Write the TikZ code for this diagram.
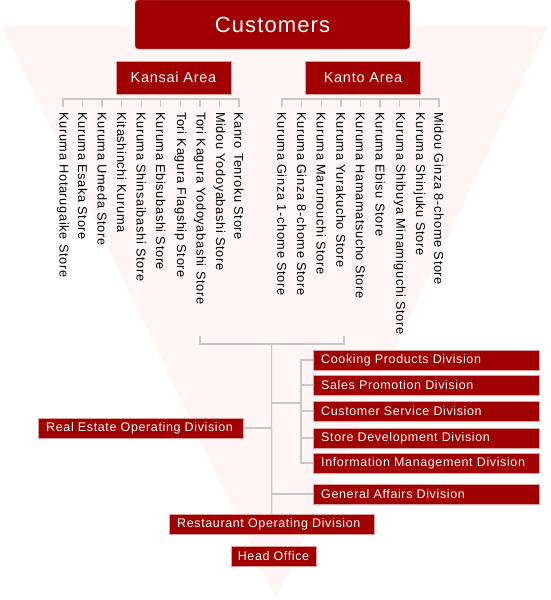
\documentclass[tikz,border=0pt]{standalone}
\usepackage{fontspec}
\setmainfont{Liberation Sans}
\newfontfamily\spacedfont[LetterSpace=5]{Liberation Sans}
\definecolor{box_red}{RGB}{160,0,0}
\definecolor{box_edge}{RGB}{225,160,160}
\definecolor{line_gray}{RGB}{200,200,200}
\definecolor{back_pink}{RGB}{255,245,245}

\begin{document}
\begin{tikzpicture}[x=1pt,y=-1pt]
    \tikzstyle{box}=[fill=box_red, draw=box_edge, line width=0.4pt, text=white, minimum height=20pt, inner ysep=0pt, font=\spacedfont\fontsize{12.5}{14}\selectfont]
    \tikzstyle{div}=[style=box, anchor=west, text width=210pt, inner xsep=8pt, align=left]
    \tikzstyle{wide}=[style=box, anchor=west, text width=189pt, inner xsep=8pt, align=left]
    \tikzstyle{area}=[style=box, minimum width=115pt, minimum height=33pt, font=\spacedfont\fontsize{14.5}{16}\selectfont]
    \tikzstyle{store}=[anchor=west, rotate=-90, inner xsep=5pt, inner ysep=0pt, text=black, font=\spacedfont\fontsize{12.8}{14}\selectfont]
    \tikzstyle{link}=[draw=line_gray, line width=1.3pt]

    \useasboundingbox (0,0) rectangle (550,600);
    \fill[back_pink] (2,26) -- (548,26) -- (276,598) -- cycle;

    \node[box, rounded corners=3pt, minimum width=275pt, minimum height=49pt, font=\spacedfont\fontsize{22}{24}\selectfont] (cu) at (272.5,24.5) {Customers};
    \node[area] (ka) at (173.5,77.5) {Kansai Area};
    \node[area] (kt) at (363,77.5)   {Kanto Area};

    % Kansai stores
    \node[store] (ks1)  at (63,107)    {Kuruma Hotarugaike Store};
    \node[store] (ks2)  at (82.6,107)  {Kuruma Esaka Store};
    \node[store] (ks3)  at (102.1,107) {Kuruma Umeda Store};
    \node[store] (ks4)  at (121.7,107) {Kitashinchi Kuruma};
    \node[store] (ks5)  at (141.2,107) {Kuruma Shinsaibashi Store};
    \node[store] (ks6)  at (160.8,107) {Kuruma Ebisubashi Store};
    \node[store] (ks7)  at (180.4,107) {Tori Kagura Flagship Store};
    \node[store] (ks8)  at (199.9,107) {Tori Kagura Yodoyabashi Store};
    \node[store] (ks9)  at (219.5,107) {Midou Yodoyabashi Store};
    \node[store] (ks10) at (239,107)   {Kanro Tenroku Store};

    % Kanto stores
    \node[store] (ts1) at (282,107)   {Kuruma Ginza 1-chome Store};
    \node[store] (ts2) at (301.6,107) {Kuruma Ginza 8-chome Store};
    \node[store] (ts3) at (321.3,107) {Kuruma Marunouchi Store};
    \node[store] (ts4) at (340.9,107) {Kuruma Yurakucho Store};
    \node[store] (ts5) at (360.5,107) {Kuruma Hamamatsucho Store};
    \node[store] (ts6) at (380.1,107) {Kuruma Ebisu Store};
    \node[store] (ts7) at (399.8,107) {Kuruma Shibuya Minamiguchi Store};
    \node[store] (ts8) at (419.4,107) {Kuruma Shinjuku Store};
    \node[store] (ts9) at (439,107)   {Midou Ginza 8-chome Store};

    % divisions
    \node[div] (cook)  at (313,360) {Cooking Products Division};
    \node[div] (sales) at (313,385) {Sales Promotion Division};
    \node[div] (serv)  at (313,411) {Customer Service Division};
    \node[div] (dev)   at (313,438) {Store Development Division};
    \node[div] (info)  at (313,463) {Information Management Division};
    \node[div] (gen)   at (313,494) {General Affairs Division};
    \node[wide] (real) at (38,428)  {Real Estate Operating Division};
    \node[wide] (rest) at (169,524) {Restaurant Operating Division};
    \node[box, minimum width=85pt] (head) at (273.5,556) {Head Office};

    \coordinate (kabar) at (150,99);
    \coordinate (ktbar) at (360,99);
    \coordinate (barl) at (200,336);
    \coordinate (barr) at (344,336);
    \coordinate (trunk) at (271.5,344);
    \coordinate (divbar) at (301,403);

    % store brackets
    \draw[link] (ks1.west) |- (kabar) -| (ks10.west);
    \foreach \i in {2,...,9}
      \draw[link] (ks\i.west) -- (ks\i.west |- kabar);
    \draw[link] (ts1.west) |- (ktbar) -| (ts9.west);
    \foreach \i in {2,...,8}
      \draw[link] (ts\i.west) -- (ts\i.west |- ktbar);

    % head office tree
    \draw[link] (barl) |- (trunk) -| (barr);
    \path
     (trunk) edge[link] (rest.north)
     (real.east) edge[link] (real.east -| trunk)
     (gen.west) edge[link] (gen.west -| trunk)
     (divbar -| trunk) edge[link] (divbar)
     ;
    \draw[link] (cook.west) -| (divbar) |- (info.west);
    \path
     (sales.west) edge[link] (sales.west -| divbar)
     (serv.west) edge[link] (serv.west -| divbar)
     (dev.west) edge[link] (dev.west -| divbar)
     ;
\end{tikzpicture}
\end{document}
